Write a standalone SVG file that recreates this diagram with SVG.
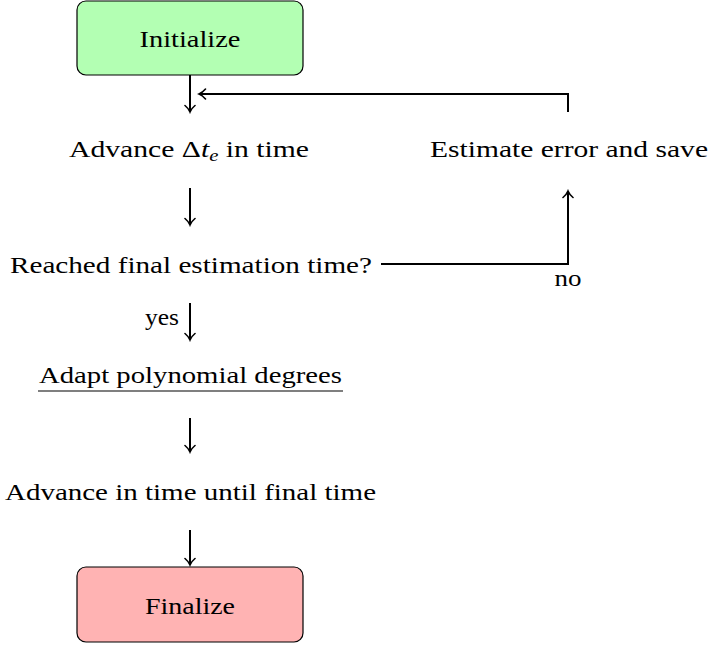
<svg xmlns="http://www.w3.org/2000/svg" width="710" height="646" viewBox="0 0 710 646">
<style>
text{font-family:"Liberation Serif","Times New Roman",serif;font-size:23px;fill:#000}
.box{stroke:#000;stroke-width:1.2}
.conn{fill:none;stroke:#000;stroke-width:2}
</style>
<defs>
<marker id="arr" viewBox="-8 -6 10 12" refX="0" refY="0" markerWidth="10" markerHeight="12" markerUnits="userSpaceOnUse" orient="auto">
<path d="M-6.5,-5 C-4,-2 -1.5,-0.6 0,0 C-1.5,0.6 -4,2 -6.5,5" fill="none" stroke="#000" stroke-width="1.6" stroke-linecap="round"/>
</marker>
</defs>
<rect width="710" height="646" fill="#fff"/>
<g id="initialize">
<rect class="box" x="77" y="1" width="226" height="74" rx="9" fill="#b3ffb3"/>
<text x="190" y="47" text-anchor="middle" textLength="101" lengthAdjust="spacingAndGlyphs">Initialize</text>
</g>
<g id="advance">
<text x="69" y="157" textLength="240" lengthAdjust="spacingAndGlyphs">Advance Δ<tspan font-style="italic">t</tspan><tspan font-style="italic" font-size="16" dy="4">e</tspan><tspan dy="-4"> in time</tspan></text>
</g>
<g id="estimate">
<text x="430" y="157" textLength="278" lengthAdjust="spacingAndGlyphs">Estimate error and save</text>
</g>
<g id="reached">
<text x="10" y="273" textLength="362" lengthAdjust="spacingAndGlyphs">Reached final estimation time?</text>
</g>
<g id="adapt">
<text x="39" y="383" textLength="303" lengthAdjust="spacingAndGlyphs">Adapt polynomial degrees</text>
<line x1="38" y1="391" x2="343" y2="391" stroke="#000" stroke-width="1.2"/>
</g>
<g id="advance-final">
<text x="5" y="500" textLength="371" lengthAdjust="spacingAndGlyphs">Advance in time until final time</text>
</g>
<g id="finalize">
<rect class="box" x="77" y="567" width="226" height="75" rx="9" fill="#ffb3b3"/>
<text x="190" y="614" text-anchor="middle" textLength="90" lengthAdjust="spacingAndGlyphs">Finalize</text>
</g>
<g id="connectors">
<line class="conn" x1="190" y1="75" x2="190" y2="112" marker-end="url(#arr)"/>
<polyline class="conn" points="568,112 568,94 199,94" marker-end="url(#arr)"/>
<line class="conn" x1="190" y1="188" x2="190" y2="225" marker-end="url(#arr)"/>
<polyline class="conn" points="381,264 568,264 568,191" marker-end="url(#arr)"/>
<text x="568" y="286" text-anchor="middle" textLength="27" lengthAdjust="spacingAndGlyphs">no</text>
<line class="conn" x1="190" y1="303" x2="190" y2="340" marker-end="url(#arr)"/>
<text x="145" y="325" textLength="34" lengthAdjust="spacingAndGlyphs">yes</text>
<line class="conn" x1="190" y1="418" x2="190" y2="452" marker-end="url(#arr)"/>
<line class="conn" x1="190" y1="530" x2="190" y2="565" marker-end="url(#arr)"/>
</g>
</svg>
